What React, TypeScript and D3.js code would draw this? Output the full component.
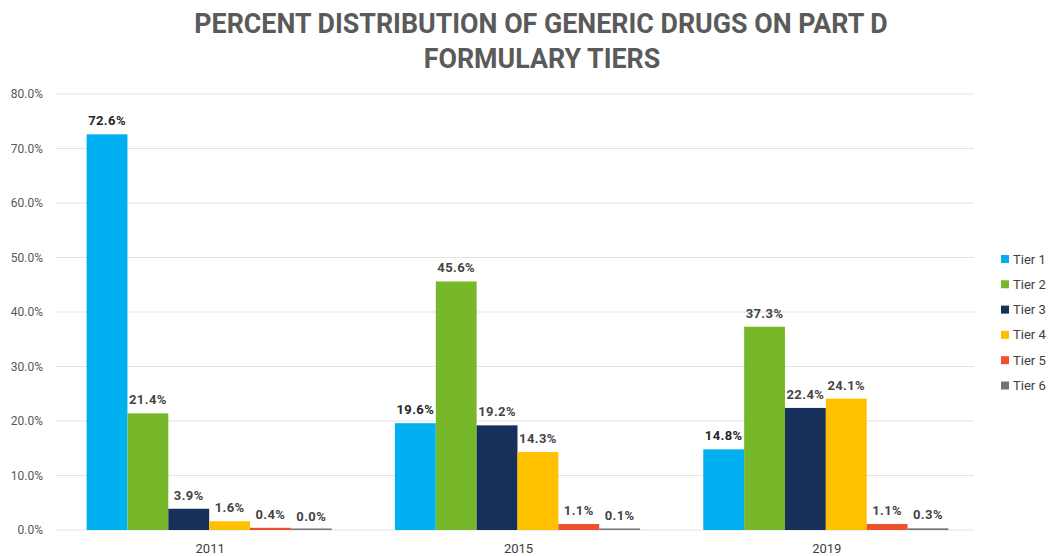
import React from "react";
import * as d3 from "d3";

const years = ["2011", "2015", "2019"];
const tiers = ["Tier 1", "Tier 2", "Tier 3", "Tier 4", "Tier 5", "Tier 6"];
const tier1 = [72.6, 19.6, 14.8];
const tier2 = [21.4, 45.6, 37.3];
const tier3 = [3.9, 19.2, 22.4];
const tier4 = [1.6, 14.3, 24.1];
const tier5 = [0.4, 1.1, 1.1];
const tier6 = [0.0, 0.1, 0.3];
const seriesValues = [tier1, tier2, tier3, tier4, tier5, tier6];
const tierColors = ["#00B0F0", "#77B82A", "#17305A", "#FFC000", "#F0512C", "#737373"];
const yTicks = [0, 10, 20, 30, 40, 50, 60, 70, 80];

const W = 1048;
const H = 556;
const margin = { top: 94, right: 68, bottom: 26, left: 55 };

export default function App() {
  const x = d3
    .scaleBand<string>()
    .domain(years)
    .range([margin.left, W - margin.right])
    .paddingInner(0)
    .paddingOuter(0);
  const groupW = x.bandwidth() * 0.795;
  const xInner = d3
    .scaleBand<string>()
    .domain(tiers)
    .range([0, groupW])
    .padding(0);
  const y = d3.scaleLinear().domain([0, 80]).range([H - margin.bottom, margin.top]);
  const font = "Roboto, 'Noto Sans', sans-serif";

  return (
    <svg
      width={W}
      height={H}
      style={{ position: "absolute", left: 0, top: 0, background: "#fff" }}
      fontFamily={font}
    >
      <text x={541} y={33} textAnchor="middle" fontSize={26.8} fontWeight={700} fill="#5a5a5a">
        PERCENT DISTRIBUTION OF GENERIC DRUGS ON PART D
      </text>
      <text x={542} y={68} textAnchor="middle" fontSize={26.8} fontWeight={700} fill="#5a5a5a">
        FORMULARY TIERS
      </text>

      {yTicks.map((t) => (
        <g key={t}>
          <line
            x1={margin.left}
            x2={W - margin.right - 6}
            y1={y(t)}
            y2={y(t)}
            stroke="#e3e3e3"
            strokeWidth={1}
          />
          <text x={43} y={y(t) + 4} textAnchor="end" fontSize={12} fill="#595959">
            {t.toFixed(1) + "%"}
          </text>
        </g>
      ))}

      {years.map((yr, yi) => {
        const gx = (x(yr) as number) + (x.bandwidth() - groupW) / 2;
        return (
          <g key={yr}>
            {tiers.map((tier, ti) => {
              const v = seriesValues[ti][yi];
              const bx = gx + (xInner(tier) as number);
              const by = y(v);
              const h = Math.max(y(0) - by, 1.5);
              return (
                <g key={tier}>
                  <rect x={bx} y={y(0) - h} width={xInner.bandwidth()} height={h} fill={tierColors[ti]} />
                  <text
                    x={bx + xInner.bandwidth() / 2}
                    y={by - 9}
                    textAnchor="middle"
                    fontSize={13}
                    fontWeight={700}
                    letterSpacing={0.4}
                    fill={ti === 0 ? "#262626" : "#444444"}
                  >
                    {v.toFixed(1) + "%"}
                  </text>
                </g>
              );
            })}
            <text
              x={(x(yr) as number) + x.bandwidth() / 2 + 1}
              y={553}
              textAnchor="middle"
              fontSize={13}
              fill="#404040"
            >
              {yr}
            </text>
          </g>
        );
      })}

      {tiers.map((tier, ti) => (
        <g key={tier} transform={`translate(1001, ${259 + ti * 25.3})`}>
          <rect x={0} y={-4} width={8} height={8} fill={tierColors[ti]} />
          <text x={12} y={4.5} fontSize={13} fill="#404040">
            {tier}
          </text>
        </g>
      ))}
    </svg>
  );
}
